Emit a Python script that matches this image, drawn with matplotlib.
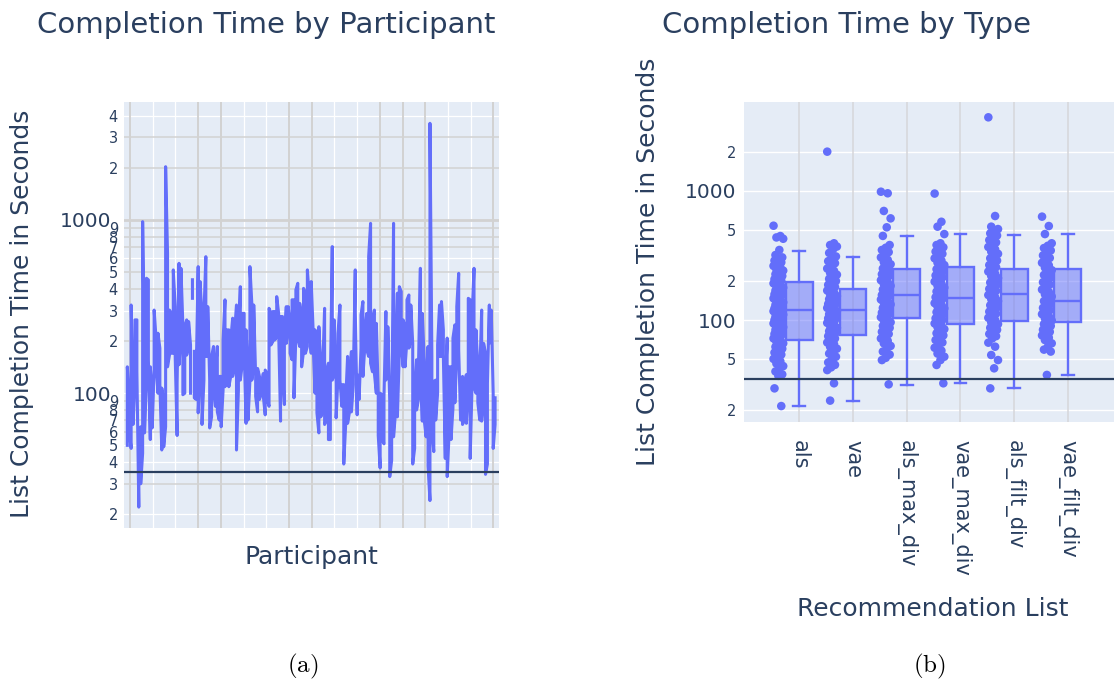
"""
Tiempo de completado de listas: por participante (a) y por tipo de lista (b).
Valores leidos a ojo de la figura original (escala log).
"""
import numpy as np
import matplotlib
matplotlib.use('Agg')
import matplotlib.pyplot as plt

# ---- datos panel (a): rango (max, min) de cada participante, en orden ----
part_hi = [142, 94, 323, 98, 265, 265, 59, 64, 978, 166,
           461, 451, 142, 100, 302, 208, 222, 182, 107, 90,
           2030, 642, 302, 289, 515, 316, 114, 562, 526, 248,
           242, 265, 259, 190, 461, 178, 139, 538, 441, 277,
           283, 614, 316, 119, 163, 186, 136, 186, 125, 125,
           203, 346, 232, 232, 203, 271, 222, 323, 208, 412,
           289, 289, 232, 130, 538, 330, 323, 125, 139, 125,
           109, 130, 136, 130, 309, 289, 296, 296, 361, 289,
           277, 277, 194, 316, 316, 253, 346, 346, 395, 431,
           330, 277, 403, 378, 515, 361, 441, 232, 232, 222,
           242, 146, 136, 309, 133, 149, 114, 702, 265, 114,
           222, 323, 112, 112, 90, 163, 125, 174, 128, 515,
           128, 125, 283, 338, 232, 289, 614, 956, 265, 302,
           253, 100, 100, 98, 96, 296, 242, 90, 60, 956,
           163, 378, 412, 386, 265, 242, 346, 369, 323, 194,
           104, 156, 142, 526, 289, 156, 112, 186, 3613, 163,
           117, 119, 190, 323, 338, 232, 114, 208, 142, 142,
           208, 248, 316, 492, 109, 125, 114, 128, 353, 346,
           277, 526, 232, 142, 128, 302, 194, 170, 114, 323,
           302, 100, 96]
part_lo = [49, 60, 48, 66, 119, 133, 22, 30, 45, 59,
           122, 156, 54, 63, 136, 149, 100, 112, 47, 49,
           64, 142, 166, 170, 170, 163, 57, 146, 212, 98,
           100, 166, 186, 98, 346, 94, 92, 77, 136, 66,
           119, 163, 163, 63, 73, 109, 84, 78, 70, 64,
           104, 109, 119, 109, 125, 125, 142, 47, 104, 119,
           146, 178, 67, 70, 117, 119, 142, 96, 78, 92,
           100, 96, 75, 92, 84, 190, 199, 203, 212, 232,
           69, 130, 86, 194, 232, 170, 156, 94, 212, 208,
           186, 142, 174, 170, 186, 242, 170, 194, 100, 77,
           59, 73, 78, 66, 70, 54, 54, 119, 130, 72,
           125, 119, 84, 39, 66, 67, 78, 78, 112, 302,
           75, 92, 182, 125, 186, 178, 163, 149, 133, 130,
           100, 57, 37, 54, 51, 119, 182, 33, 41, 56,
           77, 73, 170, 194, 142, 142, 203, 182, 203, 39,
           48, 80, 92, 152, 69, 70, 56, 38, 24, 61,
           46, 70, 100, 163, 163, 163, 42, 33, 59, 54,
           82, 88, 170, 178, 70, 66, 70, 67, 100, 42,
           114, 109, 100, 88, 70, 69, 90, 34, 39, 194,
           222, 48, 66]
aislados = [34]     # participante que sale sin conexion con sus vecinos
umbral = 35

# ---- datos panel (b) ----
tipos = ['als', 'vae', 'als_max_div', 'vae_max_div', 'als_filt_div', 'vae_filt_div']
# estadisticos de las cajas: bigote inf, q1, mediana, q3, bigote sup
bigote_inf = [21.7, 23.6, 31.6, 32.6, 29.6, 37.6]
q1 = [70, 76.5, 104, 92.7, 98, 96]
mediana = [119, 119, 156, 149, 158, 140]
q3 = [198, 173, 248, 258, 248, 247]
bigote_sup = [342, 307, 449, 460, 452, 460]

pts_als = [536, 446, 435, 425, 348, 318, 305, 296, 288, 279, 270, 262, 255, 246, 241,
           233, 226, 219, 214, 207, 201, 197, 192, 187, 183, 178, 174, 169, 165, 161,
           158, 154, 150, 147, 143, 140, 137, 134, 131, 128, 126, 123, 121, 119, 117,
           115, 113, 110, 108, 106, 104, 102, 100, 98, 96, 94, 92, 90, 88, 86, 84, 82,
           80, 78, 76, 74, 72, 70, 68, 66, 64, 62, 60, 58, 56, 54, 52, 50, 48, 46, 44,
           42, 40, 38, 37, 29.6, 21.6]
pts_vae = [2004, 392, 380, 370, 352, 330, 310, 298, 285, 275, 262, 250, 240, 231, 224,
           215, 208, 200, 193, 187, 180, 174, 169, 163, 158, 153, 149, 145, 141, 137,
           133, 130, 127, 124, 121, 119, 117, 114, 111, 108, 105, 103, 100, 98, 95, 92,
           90, 87, 85, 82, 80, 77, 75, 72, 70, 67, 65, 62, 60, 57, 55, 52, 50, 47, 45,
           43, 41, 32.4, 23.8]
pts_als_max = [982, 955, 697, 611, 521, 447, 380, 362, 348, 335, 320, 305, 292, 280, 270,
               260, 250, 242, 234, 226, 218, 210, 203, 196, 190, 184, 178, 172, 166, 161,
               156, 152, 148, 144, 140, 136, 132, 128, 124, 120, 117, 114, 111, 108, 105,
               102, 99, 96, 93, 90, 87, 84, 81, 78, 75, 72, 69, 66, 63, 60, 57, 54, 51,
               49, 31.8]
pts_vae_max = [950, 575, 527, 462, 392, 380, 365, 350, 338, 325, 312, 300, 288, 277, 266,
               256, 247, 238, 229, 221, 213, 205, 198, 191, 184, 178, 172, 166, 160, 155,
               150, 145, 140, 135, 131, 127, 123, 119, 115, 111, 107, 103, 100, 97, 94, 91,
               88, 85, 82, 79, 76, 73, 70, 67, 64, 61, 58, 55, 52, 49, 44.9, 32.4]
pts_als_filt = [3694, 637, 527, 505, 486, 468, 450, 432, 415, 398, 382, 367, 352, 338, 325,
                312, 300, 288, 277, 266, 256, 246, 237, 228, 219, 211, 203, 195, 188, 181,
                174, 168, 162, 156, 150, 145, 140, 135, 130, 125, 120, 116, 112, 108, 104,
                100, 96, 93, 90, 87, 84, 81, 78, 75, 72, 66.8, 62.2, 53.6, 49, 42.3, 29.6]
pts_vae_filt = [630, 533, 462, 392, 375, 360, 345, 330, 316, 302, 289, 277, 265, 254, 243,
                233, 223, 214, 205, 196, 188, 180, 172, 165, 158, 152, 146, 140, 134, 129,
                124, 119, 115, 111, 107, 103, 99, 96, 93, 90, 87, 84, 81, 79, 76, 73, 70,
                66, 62, 59, 57, 37.6]
puntos = [pts_als, pts_vae, pts_als_max, pts_vae_max, pts_als_filt, pts_vae_filt]

#====================================
#=         Creador de imagen        =
#====================================
W, H = 1114, 682
azul = '#636EFA'
texto = '#2a3f5f'
fondo = '#E5ECF6'
gris = '#d2d2d2'

fig = plt.figure(figsize=(W / 100, H / 100), dpi=100)


def caja(x0, y0, x1, y1):
    # rectangulo en pixeles -> coords de figura
    return [x0 / W, 1 - y1 / H, (x1 - x0) / W, (y1 - y0) / H]


def px(x, y):
    return x / W, 1 - y / H


# ---------------- panel (a) ----------------
ax1 = fig.add_axes(caja(124.3, 101.7, 499.3, 528.3))
ax1.set_facecolor(fondo)
ax1.set_yscale('log')
ax1.set_ylim(16.6, 4817)
ax1.set_xlim(-1.57, 194.2)

# rejilla horizontal (blanca y gris como en la original)
blancas = [20, 40, 50, 100, 300, 600, 4000]
grises = [30, 60, 70, 80, 90, 200, 400, 500, 700, 800, 900, 2000, 3000]
for v in blancas:
    ax1.axhline(v, color='white', lw=0.9, zorder=0.5)
for v in grises:
    ax1.axhline(v, color=gris, lw=1.1, zorder=0.6)
ax1.axhline(1000, color=gris, lw=2.0, zorder=0.6)

# rejilla vertical
xg = np.linspace(1.41, 191.1, 17)
col_v = ['g', 'w', 'w', 'g', 'g', 'w', 'w', 'g', 'g', 'w', 'w', 'g', 'g', 'g', 'w', 'w', 'g']
for x, c in zip(xg, col_v):
    if c == 'g':
        ax1.axvline(x, color=gris, lw=1.4, zorder=0.6)
    else:
        ax1.axvline(x, color='white', lw=0.9, zorder=0.5)

xs, ys = [], []
for i in range(len(part_hi)):
    a, b = (part_lo[i], part_hi[i]) if i % 2 == 0 else (part_hi[i], part_lo[i])
    if i in aislados:
        xs.append(np.nan); ys.append(np.nan)
    xs += [i, i]
    ys += [a, b]
    if i in aislados:
        xs.append(np.nan); ys.append(np.nan)
ax1.plot(xs, ys, color=azul, lw=2.2, zorder=2, solid_capstyle='butt')
ax1.axhline(umbral, color=texto, lw=1.6, zorder=3)

may = [100, 1000]
men = [20, 30, 40, 50, 60, 70, 80, 90, 200, 300, 400, 500, 600, 700, 800, 900,
       2000, 3000, 4000]
ax1.set_yticks(may, ['100', '1000'])
ax1.set_yticks(men, [str(v)[0] for v in men], minor=True)
ax1.set_xticks([])
ax1.tick_params(axis='y', which='major', length=0, pad=9, labelsize=14.5, labelcolor=texto)
ax1.tick_params(axis='y', which='minor', length=0, pad=4.5, labelsize=10.5, labelcolor=texto)
for s in ax1.spines.values():
    s.set_visible(False)

# ---------------- panel (b) ----------------
ax2 = fig.add_axes(caja(744, 101.7, 1114, 421.7))
ax2.set_facecolor(fondo)
ax2.set_yscale('log')
ax2.set_ylim(16.35, 4878)
ax2.set_xlim(-1.03, 5.86)

for v in [20, 50, 100, 200, 500, 1000, 2000]:
    ax2.axhline(v, color='white', lw=1.0, zorder=0.5)
for k in range(len(tipos)):
    ax2.axvline(k, color='#d6d6da', lw=1.1, zorder=0.6)

for k, pts in enumerate(puntos):
    jit = [((j * 7) % 11 / 10.0 - 0.5) * 0.18 for j in range(len(pts))]
    ax2.scatter([k - 0.39 + d for d in jit], pts, s=38, color=azul,
                edgecolors='none', zorder=3)

stats = []
for k in range(len(tipos)):
    stats.append({'whislo': bigote_inf[k], 'q1': q1[k], 'med': mediana[k],
                  'q3': q3[k], 'whishi': bigote_sup[k], 'fliers': []})
ax2.bxp(stats, positions=range(len(tipos)), widths=0.5, patch_artist=True,
        showfliers=False, manage_ticks=False, capwidths=0.22,
        boxprops=dict(facecolor=(0.388, 0.431, 0.980, 0.5), edgecolor=azul, lw=1.7),
        whiskerprops=dict(color=azul, lw=1.7),
        capprops=dict(color=azul, lw=1.7),
        medianprops=dict(color=azul, lw=1.7), zorder=4)
ax2.axhline(umbral, color=texto, lw=1.6, zorder=5)

ax2.set_yticks([100, 1000], ['100', '1000'])
ax2.set_yticks([20, 50, 200, 500, 2000], ['2', '5', '2', '5', '2'], minor=True)
ax2.set_xticks(range(len(tipos)), tipos, rotation=-90)
ax2.tick_params(axis='x', length=0, pad=13, labelsize=15, labelcolor=texto)
ax2.tick_params(axis='y', which='major', length=0, pad=5.5, labelsize=14.5, labelcolor=texto)
ax2.tick_params(axis='y', which='minor', length=0, pad=5.5, labelsize=10.5, labelcolor=texto)
for s in ax2.spines.values():
    s.set_visible(False)

# ---------------- textos ----------------
fig.text(*px(266, 25), 'Completion Time by Participant', fontsize=21, color=texto,
         ha='center', va='center')
fig.text(*px(847, 25), 'Completion Time by Type', fontsize=21, color=texto,
         ha='center', va='center')
fig.text(*px(22, 314), 'List Completion Time in Seconds', fontsize=18, color=texto,
         ha='center', va='center', rotation=90)
fig.text(*px(648, 262), 'List Completion Time in Seconds', fontsize=18, color=texto,
         ha='center', va='center', rotation=90)
fig.text(*px(311, 557), 'Participant', fontsize=18, color=texto, ha='center', va='center')
fig.text(*px(933, 609), 'Recommendation List', fontsize=18, color=texto,
         ha='center', va='center')

plt.rcParams['mathtext.fontset'] = 'cm'
fig.text(*px(303, 666), r'$\mathrm{(a)}$', fontsize=18, ha='center', va='center')
fig.text(*px(929, 666), r'$\mathrm{(b)}$', fontsize=18, ha='center', va='center')

fig.savefig('out.png', dpi=100, facecolor='white')
plt.close()
